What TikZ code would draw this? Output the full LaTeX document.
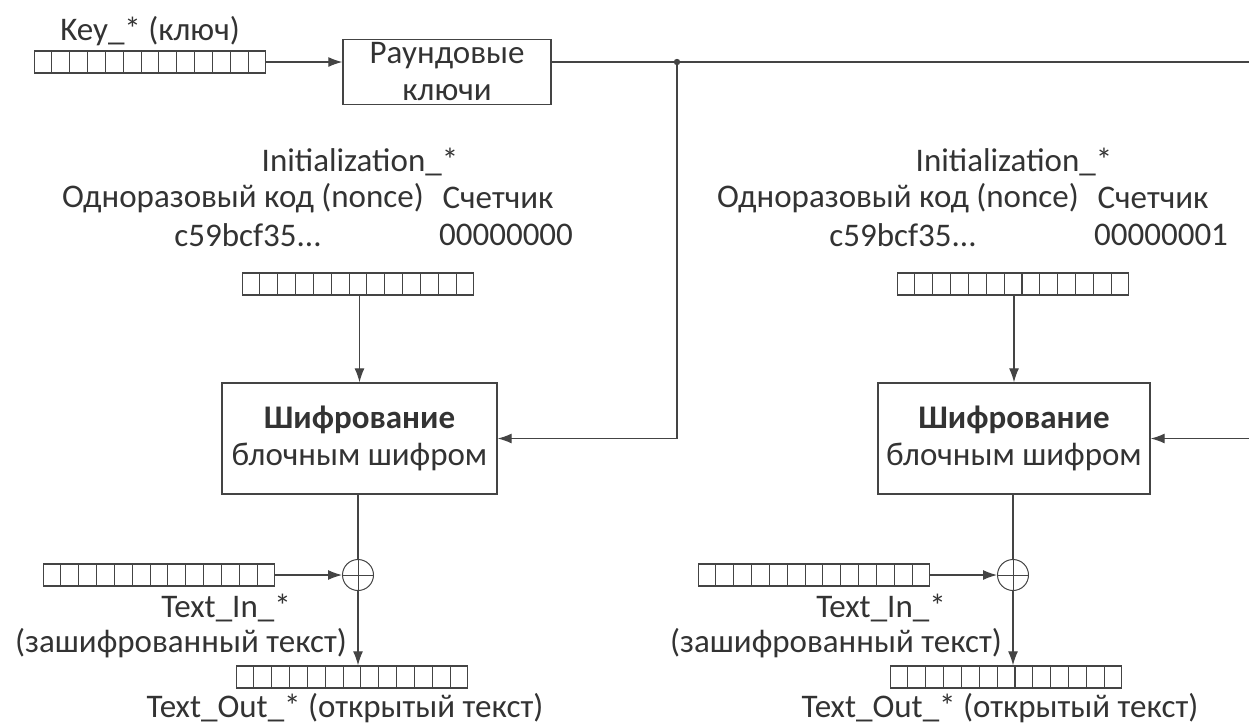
\documentclass[tikz,border=0pt]{standalone}
\usepackage{fontspec}
\setmainfont{Carlito}
\usetikzlibrary{calc,arrows.meta}
\definecolor{ln}{HTML}{444444}
\definecolor{tx}{HTML}{333333}
\newcommand{\regcells}[1]{%
  \foreach \i in {1,...,12}{%
    \draw[ln,line width=1.1pt] ($(#1.north west)!\i/13!(#1.north east)$) -- ($(#1.south west)!\i/13!(#1.south east)$);}}
\begin{document}
\begin{tikzpicture}[x=1pt,y=-1pt,
  every node/.style={font=\fontsize{33}{37}\selectfont, text=tx},
  lbl/.style={inner sep=0pt},
  regbox/.style={draw=ln, line width=1.4pt, minimum width=231pt, minimum height=22pt, inner sep=0pt},
  blockbox/.style={draw=ln, line width=1.4pt, align=center, inner sep=0pt},
  xorc/.style={draw=ln, line width=1pt, circle, minimum size=31pt, inner sep=0pt},
  conn/.style={draw=ln, line width=1.2pt},
  arr/.style={conn, -{Latex[length=14pt,width=10pt]}}]
\useasboundingbox (0,0) rectangle (1249,724);

% key
\node[lbl] (keytxt) at (150,31) {Key\_* (ключ)};
\node[regbox] (keyreg) at (150,62) {};
\regcells{keyreg}
\node[blockbox, minimum width=208pt, minimum height=65pt] (rk) at (447,72) {Раундовые\\ключи};
\draw[arr] (keyreg.east) -- (keyreg.east -| rk.west);
\coordinate (kend) at (1249,62);
\coordinate (dot) at (677,62);
\draw[conn] (keyreg.east -| rk.east) -- (kend);
\fill[ln] (dot) circle (3.2pt);

% ---------- left block ----------
\node[lbl] (init1) at (360,162) {Initialization\_*};
\node[lbl] (nonce1) at (243,198) {Одноразовый код (nonce)};
\node[lbl] (cnt1) at (498,198) {Счетчик};
\node[lbl] (nv1) at (248,235) {c59bcf35...};
\node[lbl] (cv1) at (506,235) {00000000};
\node[regbox] (ireg1) at (358,284) {};
\regcells{ireg1}
\node[blockbox, minimum width=275pt, minimum height=111pt] (enc1) at (359.5,438.5) {\textbf{Шифрование}\\блочным шифром};
\draw[arr] (ireg1.south -| enc1.north) -- (enc1.north);
\draw[arr] (dot) |- (enc1.east);
\node[xorc] (xor1) at (358,575) {};
\draw[ln, line width=1pt] (xor1.north) -- (xor1.south) (xor1.west) -- (xor1.east);
\draw[conn] (enc1.south -| xor1.north) -- (xor1.north);
\node[regbox] (tin1) at (159,575) {};
\regcells{tin1}
\draw[arr] (tin1.east) -- (xor1.west);
\node[lbl] (tint1) at (226,608) {Text\_In\_*};
\node[lbl] (tinl1) at (181,643) {(зашифрованный текст)};
\node[regbox] (tout1) at (352,677) {};
\regcells{tout1}
\draw[arr] (xor1.south) -- (xor1.south |- tout1.north);
\node[lbl] (toutt1) at (345,708) {Text\_Out\_* (открытый текст)};

% ---------- right block ----------
\node[lbl] (init2) at (1014,162) {Initialization\_*};
\node[lbl] (nonce2) at (898,198) {Одноразовый код (nonce)};
\node[lbl] (cnt2) at (1153,198) {Счетчик};
\node[lbl] (nv2) at (903,235) {c59bcf35...};
\node[lbl] (cv2) at (1161,235) {00000001};
\node[regbox] (ireg2) at (1013,284) {};
\regcells{ireg2}
\node[blockbox, minimum width=272pt, minimum height=111pt] (enc2) at (1014,438.5) {\textbf{Шифрование}\\блочным шифром};
\draw[arr] (ireg2.south -| enc2.north) -- (enc2.north);
\coordinate (rin) at (1249,438.5);
\draw[arr] (rin) -- (enc2.east);
\node[xorc] (xor2) at (1013,575) {};
\draw[ln, line width=1pt] (xor2.north) -- (xor2.south) (xor2.west) -- (xor2.east);
\draw[conn] (enc2.south -| xor2.north) -- (xor2.north);
\node[regbox] (tin2) at (814,575) {};
\regcells{tin2}
\draw[arr] (tin2.east) -- (xor2.west);
\node[lbl] (tint2) at (881,608) {Text\_In\_*};
\node[lbl] (tinl2) at (836,643) {(зашифрованный текст)};
\node[regbox] (tout2) at (1006,677) {};
\regcells{tout2}
\draw[arr] (xor2.south) -- (xor2.south |- tout2.north);
\node[lbl] (toutt2) at (1000,708) {Text\_Out\_* (открытый текст)};
\end{tikzpicture}
\end{document}
